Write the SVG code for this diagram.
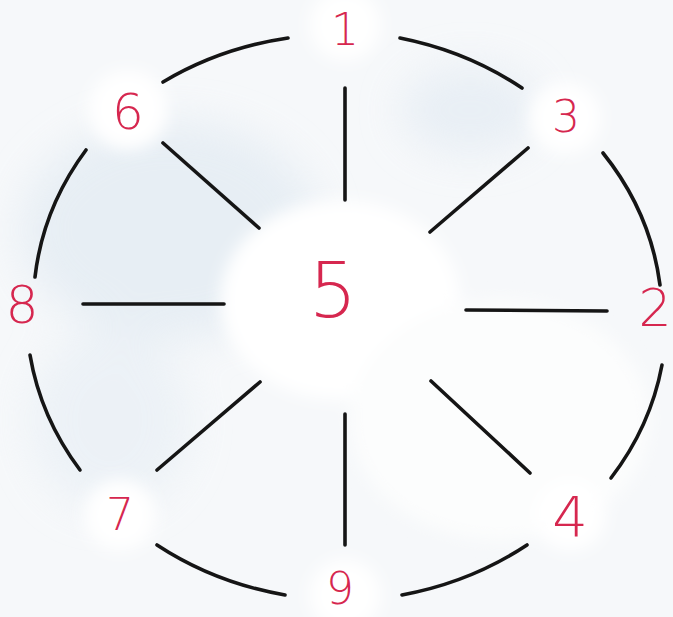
<svg xmlns="http://www.w3.org/2000/svg" width="673" height="617" viewBox="0 0 673 617">
<defs>
<filter id="blur" x="-50%" y="-50%" width="200%" height="200%"><feGaussianBlur stdDeviation="20"/></filter>
<filter id="soft" x="-50%" y="-50%" width="200%" height="200%"><feGaussianBlur stdDeviation="8"/></filter>
</defs>
<style>
.ln{fill:none;stroke:#151515;stroke-width:3.6;stroke-linecap:round}
.lb{font-family:"DejaVu Sans","Liberation Sans",sans-serif;fill:#d6274f;text-anchor:middle;font-weight:200}
</style>
<rect width="673" height="617" fill="#f6f8fa"/>
<g filter="url(#blur)" opacity="0.7">
<ellipse cx="170" cy="230" rx="150" ry="110" fill="#e1eaf2"/>
<ellipse cx="110" cy="420" rx="80" ry="90" fill="#e8eff5"/>
<ellipse cx="470" cy="110" rx="70" ry="45" fill="#e3ebf3"/>
</g>
<g filter="url(#soft)">
<ellipse cx="340" cy="300" rx="120" ry="100" fill="#ffffff"/>
<ellipse cx="500" cy="420" rx="150" ry="120" fill="#fcfdfd"/>
<circle cx="128" cy="110" r="40" fill="#ffffff"/>
<circle cx="565" cy="118" r="36" fill="#ffffff"/>
<circle cx="120" cy="515" r="36" fill="#ffffff"/>
<circle cx="570" cy="515" r="36" fill="#ffffff"/>
<circle cx="345" cy="25" r="36" fill="#ffffff"/>
<circle cx="345" cy="595" r="36" fill="#ffffff"/>
</g>
<g id="connectors">
<path class="ln" d="M163,82 A318,283 0 0 1 288,38"/>
<path class="ln" d="M400,38 A318,283 0 0 1 522,88"/>
<path class="ln" d="M603,153 A318,283 0 0 1 660,285"/>
<path class="ln" d="M662,365 A318,283 0 0 1 611,478"/>
<path class="ln" d="M527,545 A318,283 0 0 1 402,595"/>
<path class="ln" d="M285,595 A318,283 0 0 1 157,545"/>
<path class="ln" d="M80,470 A318,283 0 0 1 30,355"/>
<path class="ln" d="M35,277 A318,283 0 0 1 86,150"/>
<line class="ln" x1="345" y1="88" x2="345" y2="200"/>
<line class="ln" x1="163" y1="143" x2="259" y2="228"/>
<line class="ln" x1="528" y1="148" x2="430" y2="232"/>
<line class="ln" x1="83" y1="304" x2="224" y2="304"/>
<line class="ln" x1="466" y1="310" x2="607" y2="311"/>
<line class="ln" x1="260" y1="382" x2="157" y2="470"/>
<line class="ln" x1="431" y1="381" x2="530" y2="473"/>
<line class="ln" x1="345" y1="414" x2="345" y2="545"/>
</g>
<g id="n1"><text class="lb" x="345" y="45" font-size="44">1</text></g>
<g id="n6"><text class="lb" x="128" y="129" font-size="50">6</text></g>
<g id="n3"><text class="lb" x="566" y="132" font-size="44">3</text></g>
<g id="n8"><text class="lb" x="22" y="323" font-size="52">8</text></g>
<g id="n5"><text class="lb" x="333" y="317" font-size="76">5</text></g>
<g id="n2"><text class="lb" x="655" y="326" font-size="52">2</text></g>
<g id="n7"><text class="lb" x="120" y="530" font-size="44">7</text></g>
<g id="n4"><text class="lb" x="570" y="536" font-size="56">4</text></g>
<g id="n9"><text class="lb" x="340" y="604" font-size="44">9</text></g>
</svg>
